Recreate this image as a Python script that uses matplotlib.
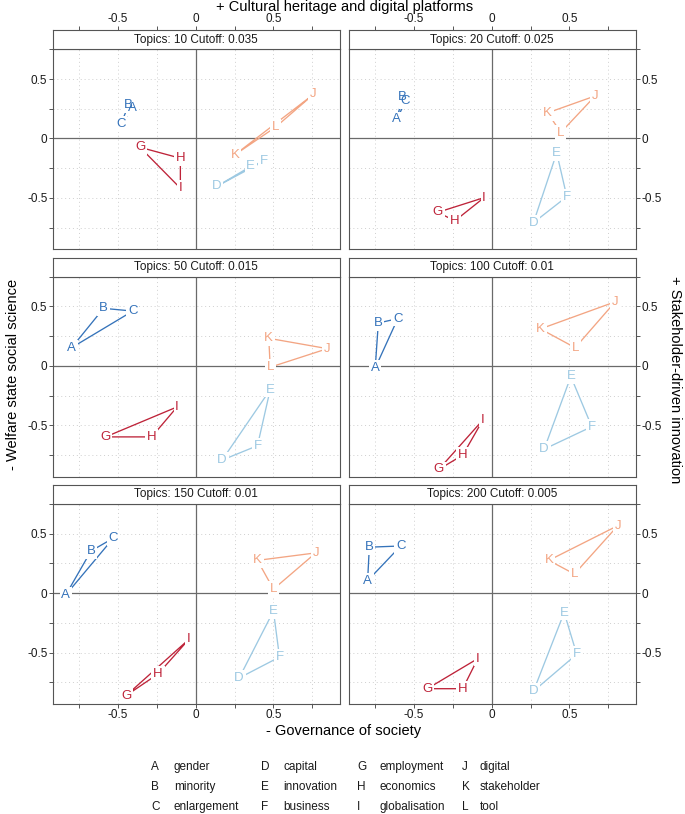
import numpy as np
import matplotlib
matplotlib.use("Agg")
import matplotlib.pyplot as plt

plt.rcParams['font.family'] = ['Liberation Sans', 'DejaVu Sans']
plt.rcParams['axes.unicode_minus'] = False

letters = ["A", "B", "C", "D", "E", "F", "G", "H", "I", "J", "K", "L"]
terms = ["gender", "minority", "enlargement", "capital", "innovation", "business",
         "employment", "economics", "globalisation", "digital", "stakeholder", "tool"]
group_colors = ["#3573BA", "#9DC9E2", "#BE2339", "#F3A583"]

titles = ["Topics: 10 Cutoff: 0.035", "Topics: 20 Cutoff: 0.025",
          "Topics: 50 Cutoff: 0.015", "Topics: 100 Cutoff: 0.01",
          "Topics: 150 Cutoff: 0.01", "Topics: 200 Cutoff: 0.005"]

# coordinates, order A..L
x10 = [-0.41, -0.434, -0.482, 0.135, 0.355, 0.437, -0.359, -0.099, -0.099, 0.759, 0.252, 0.514]
y10 = [0.253, 0.279, 0.121, -0.403, -0.234, -0.192, -0.074, -0.166, -0.418, 0.371, -0.137, 0.095]
x20 = [-0.613, -0.574, -0.555, 0.269, 0.419, 0.484, -0.348, -0.237, -0.049, 0.667, 0.361, 0.445]
y20 = [0.161, 0.347, 0.313, -0.708, -0.121, -0.489, -0.621, -0.692, -0.497, 0.358, 0.216, 0.05]
x50 = [-0.8, -0.594, -0.406, 0.17, 0.48, 0.398, -0.581, -0.284, -0.12, 0.849, 0.471, 0.48]
y50 = [0.153, 0.484, 0.461, -0.792, -0.2, -0.671, -0.597, -0.597, -0.345, 0.145, 0.232, -0.011]
x100 = [-0.751, -0.731, -0.606, 0.338, 0.51, 0.645, -0.342, -0.187, -0.056, 0.796, 0.314, 0.538]
y100 = [-0.018, 0.361, 0.397, -0.7, -0.089, -0.511, -0.871, -0.75, -0.453, 0.539, 0.311, 0.153]
x150 = [-0.837, -0.675, -0.531, 0.28, 0.501, 0.54, -0.449, -0.243, -0.045, 0.774, 0.398, 0.501]
y150 = [-0.013, 0.355, 0.463, -0.713, -0.15, -0.537, -0.861, -0.679, -0.389, 0.339, 0.276, 0.034]
x200 = [-0.8, -0.789, -0.587, 0.269, 0.467, 0.548, -0.415, -0.187, -0.09, 0.813, 0.368, 0.533]
y200 = [0.105, 0.387, 0.397, -0.824, -0.163, -0.513, -0.803, -0.803, -0.55, 0.568, 0.276, 0.161]

xs = [x10, x20, x50, x100, x150, x200]
ys = [y10, y20, y50, y100, y150, y200]

W, H = 685, 814
fig = plt.figure(figsize=(W / 100, H / 100), dpi=100)

xlim = (-0.92, 0.93)
ylim = (-0.93, 0.647)
col_left = [53, 349]
pw = 287
row_top = [49.3, 276.7, 504.0]
ph = 199.8
sh = 19
frame_col = "#555555"
txt_col = "#1a1a1a"
ticks = np.arange(-0.75, 0.76, 0.25)
tick_lab = ["" if abs(t) not in (0.0, 0.5) else ("%g" % t) for t in ticks]

for k in range(6):
    r, c = divmod(k, 2)
    l = col_left[c] / W
    b = 1 - (row_top[r] + ph) / H
    ax = fig.add_axes([l, b, pw / W, ph / H])
    st = fig.add_axes([l, 1 - row_top[r] / H, pw / W, sh / H])

    ax.set_xlim(*xlim)
    ax.set_ylim(*ylim)
    st.set_xlim(*xlim)
    st.set_ylim(0, 1)

    for g in ticks:
        ax.axvline(g, color="#cfcfcf", lw=0.7, ls=(0, (1, 3)), zorder=0)
        ax.axhline(g, color="#cfcfcf", lw=0.7, ls=(0, (1, 3)), zorder=0)
    ax.axvline(0, color="#6a6a6a", lw=0.9, zorder=1)
    ax.axhline(0, color="#6a6a6a", lw=0.9, zorder=1)

    px, py = xs[k], ys[k]
    for gi in range(4):
        idx = [3 * gi, 3 * gi + 1, 3 * gi + 2, 3 * gi]
        ax.plot([px[i] for i in idx], [py[i] for i in idx],
                color=group_colors[gi], lw=0.95, zorder=2)
    # white backgrounds first, then all letters on top
    for i, lab in enumerate(letters):
        ax.text(px[i], py[i], lab, color="white", fontsize=9.5,
                ha="center", va="center", zorder=3,
                bbox=dict(facecolor="white", edgecolor="none", pad=1.2))
    for i, lab in enumerate(letters):
        ax.text(px[i], py[i], lab, color=group_colors[i // 3], fontsize=9.5,
                ha="center", va="center", zorder=4)

    st.text(0, 0.5, titles[k], ha="center", va="center", fontsize=8.5,
            color=txt_col)
    st.set_yticks([])

    for a in (ax, st):
        for s in a.spines.values():
            s.set_color(frame_col)
            s.set_linewidth(0.8)

    ax.tick_params(axis="both", direction="out", length=3, width=0.7,
                   colors=frame_col, labelcolor=txt_col, labelsize=8.5, pad=1)
    st.tick_params(axis="x", direction="out", length=3, width=0.7,
                   colors=frame_col, labelcolor=txt_col, labelsize=8.5, pad=0.5)

    # x axis: top labels on first row, bottom labels on last row
    st.set_xticks([])
    ax.set_xticks([])
    if r == 0:
        st.set_xticks(ticks)
        st.set_xticklabels(tick_lab)
        st.xaxis.tick_top()
    if r == 2:
        ax.set_xticks(ticks)
        ax.set_xticklabels(tick_lab)
    ax.set_yticks(ticks)
    ax.set_yticklabels(tick_lab)
    if c == 1:
        ax.yaxis.tick_right()

fig.text(345 / W, 1 - 10.5 / H, "+ Cultural heritage and digital platforms",
         ha="center", va="baseline", fontsize=10.5)
fig.text(344 / W, 1 - 731 / H, "- Governance of society",
         ha="center", va="center", fontsize=10.5)
fig.text(13 / W, 1 - 374 / H, "- Welfare state social science",
         ha="center", va="center", rotation=90, fontsize=10.5)
fig.text(675 / W, 1 - 380 / H, "+ Stakeholder-driven innovation",
         ha="center", va="center", rotation=270, fontsize=10.5)

# key of letters
key_x = [151, 261, 357, 462]
text_x = [174, 283, 380, 480]
key_y = [767, 787, 807]
for i, (lab, term) in enumerate(zip(letters, terms)):
    c, r = divmod(i, 3)
    fig.text(key_x[c] / W, 1 - key_y[r] / H, lab, ha="left", va="center",
             fontsize=8.5, color=txt_col)
    fig.text(text_x[c] / W, 1 - key_y[r] / H, term, ha="left", va="center",
             fontsize=8.5, color=txt_col)

fig.savefig("out.png", dpi=100)
